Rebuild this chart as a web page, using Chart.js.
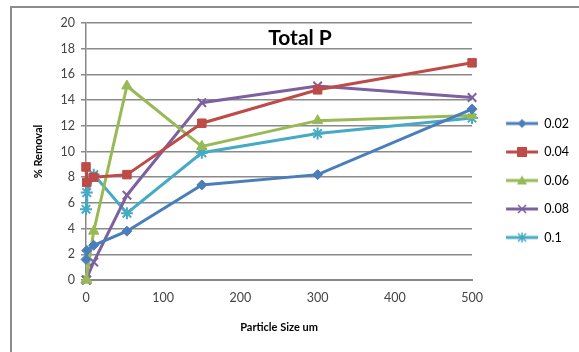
<!DOCTYPE html>
<html>
<head>
<meta charset="utf-8">
<script src="https://cdn.jsdelivr.net/npm/chart.js@4"></script>
<style>
    body { margin: 0; background: #fff; }
    #wrap { position: relative; width: 579px; height: 352px; overflow: hidden; }
    #frame { position: absolute; left: 10px; top: 6px; width: 620px; height: 400px; border: 2px solid #8c8c8c; }
    #chart { position: absolute; left: 0; top: 0; }
</style>
</head>
<body>
<div id="wrap">
    <div id="frame"></div>
    <canvas id="chart" width="579" height="352"></canvas>
</div>
<script>
// Particle sizes (um)
const sizes = [0, 1, 10, 53, 150, 300, 500];
const seriesNames = ['0.02', '0.04', '0.06', '0.08', '0.1'];
const s002 = [1.6, 2.3, 2.7, 3.8, 7.4, 8.2, 13.3];
const s004 = [8.8, 7.6, 8.0, 8.2, 12.2, 14.8, 16.9];
const s006 = [0, 0, 3.8, 15.1, 10.4, 12.4, 12.8];
const s008 = [0, 0, 1.4, 6.6, 13.8, 15.1, 14.2];
const s01 = [5.5, 6.8, 8.2, 5.2, 9.9, 11.4, 12.6];
const yTicks = [0, 2, 4, 6, 8, 10, 12, 14, 16, 18, 20];
const xTicks = [0, 100, 200, 300, 400, 500];

document.addEventListener('DOMContentLoaded', function() {
    const colors = ['#4a7ebb', '#be4b48', '#98b954', '#7d60a0', '#46aac5'];
    const styles = ['rectRot', 'rect', 'triangle', 'crossRot', 'star'];
    const radii = [5, 6, 6, 6, 6];
    const allValues = [s002, s004, s006, s008, s01];
    const fontFam = 'Lato, "Open Sans", sans-serif';

    // Legend sample: line with marker, drawn into a small canvas (blank margin on the left)
    const gap = 18, lineLen = 32;
    function legendIcon(color, style) {
        const c = document.createElement('canvas');
        c.width = gap + lineLen; c.height = 14;
        const g = c.getContext('2d');
        g.strokeStyle = color; g.fillStyle = color; g.lineWidth = 3;
        g.beginPath(); g.moveTo(gap, 7); g.lineTo(gap + lineLen, 7); g.stroke();
        const cx = gap + lineLen / 2, cy = 7;
        g.beginPath();
        if (style === 'rectRot') {
            g.moveTo(cx, cy - 4.5); g.lineTo(cx + 4.5, cy); g.lineTo(cx, cy + 4.5); g.lineTo(cx - 4.5, cy); g.closePath(); g.fill();
        } else if (style === 'rect') {
            g.fillRect(cx - 5, cy - 5, 10, 10);
        } else if (style === 'triangle') {
            g.moveTo(cx, cy - 5); g.lineTo(cx + 5, cy + 4); g.lineTo(cx - 5, cy + 4); g.closePath(); g.fill();
        } else {
            g.lineWidth = 1.5;
            g.moveTo(cx - 4, cy - 4); g.lineTo(cx + 4, cy + 4);
            g.moveTo(cx + 4, cy - 4); g.lineTo(cx - 4, cy + 4);
            if (style === 'star') { g.moveTo(cx, cy - 5); g.lineTo(cx, cy + 5); }
            g.stroke();
        }
        return c;
    }

    const datasets = allValues.map((vals, i) => ({
        label: seriesNames[i],
        data: vals.map((v, j) => ({ x: sizes[j], y: v })),
        borderColor: colors[i],
        backgroundColor: colors[i],
        borderWidth: 3,
        showLine: true,
        clip: false,
        pointStyle: styles[i],
        pointRadius: radii[i],
        pointBorderWidth: (styles[i] === 'crossRot' || styles[i] === 'star') ? 2 : 1,
        legendIcon: legendIcon(colors[i], styles[i])
    }));

    // Chart title drawn inside the plot, as in the source figure
    const titlePlugin = {
        id: 'insideTitle',
        afterDatasetsDraw(chart) {
            const ctx = chart.ctx;
            ctx.save();
            ctx.font = 'bold 21px ' + fontFam;
            ctx.fillStyle = '#000';
            ctx.textAlign = 'center';
            ctx.textBaseline = 'middle';
            ctx.fillText('Total P', 300, 38);
            ctx.restore();
        }
    };

    new Chart(document.getElementById('chart'), {
        type: 'scatter',
        data: { datasets: datasets },
        plugins: [titlePlugin],
        options: {
            responsive: false,
            animation: false,
            layout: { padding: { left: 28, right: 0, top: 23, bottom: 14 } },
            scales: {
                x: {
                    type: 'linear',
                    min: 0, max: 500,
                    afterBuildTicks: (axis) => { axis.ticks = xTicks.map(v => ({ value: v })); },
                    grid: { display: false, drawOnChartArea: false, drawTicks: true, tickLength: 5, color: '#888' },
                    border: { display: true, color: '#888', width: 2 },
                    ticks: { color: '#444', font: { family: fontFam, size: 12.5 }, padding: 5 },
                    title: { display: true, text: 'Particle Size um', color: '#000', font: { family: fontFam, size: 11, weight: 'bold' }, padding: { top: 6 } },
                    afterFit: (scale) => { scale.height = 58; }
                },
                y: {
                    min: 0, max: 20,
                    afterBuildTicks: (axis) => { axis.ticks = yTicks.map(v => ({ value: v })); },
                    grid: { color: '#8a8a8a', lineWidth: 1.5, tickLength: 5 },
                    border: { display: true, color: '#888', width: 1.5 },
                    ticks: { color: '#444', font: { family: fontFam, size: 12.5 }, padding: 6 },
                    title: { display: true, text: '% Removal', color: '#000', font: { family: fontFam, size: 11, weight: 'bold' }, padding: { bottom: 6 } },
                    afterFit: (scale) => { scale.width = 58; }
                }
            },
            plugins: {
                legend: {
                    position: 'right',
                    labels: {
                        usePointStyle: true,
                        pointStyleWidth: gap + lineLen,
                        padding: 16,
                        color: '#333',
                        font: { family: fontFam, size: 12.5 },
                        generateLabels(chart) {
                            return chart.data.datasets.map((ds, i) => ({
                                text: ds.label,
                                pointStyle: ds.legendIcon,
                                fillStyle: ds.backgroundColor,
                                strokeStyle: ds.borderColor,
                                lineWidth: 0,
                                hidden: false,
                                datasetIndex: i
                            }));
                        }
                    }
                },
                tooltip: { enabled: false }
            }
        }
    });
});
</script>
</body>
</html>
